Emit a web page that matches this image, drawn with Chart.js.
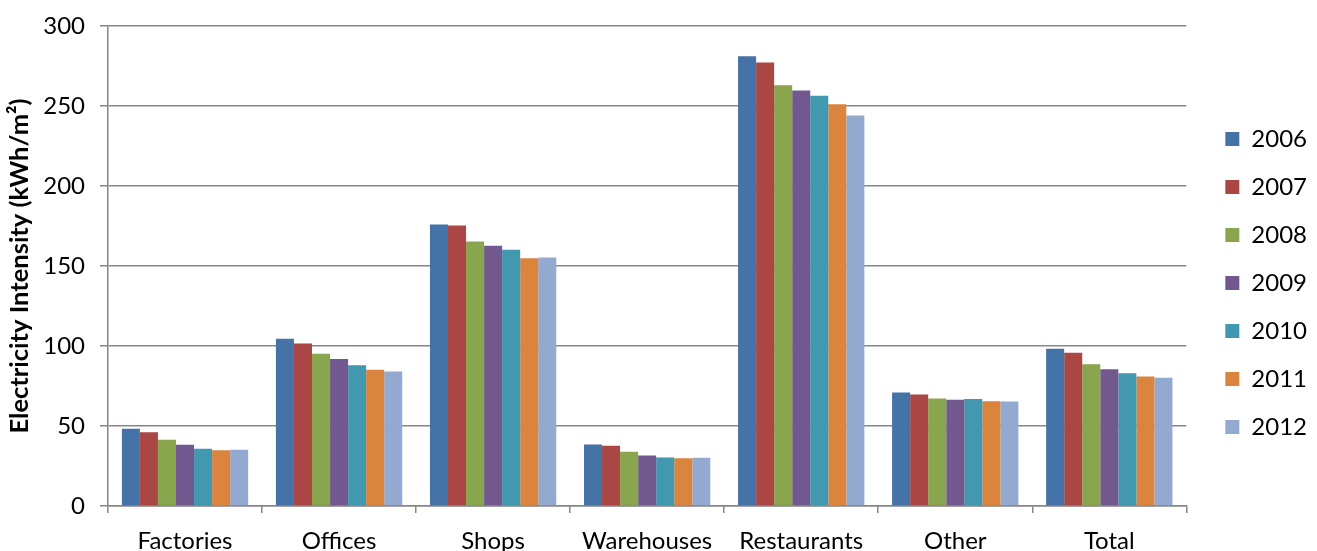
<!DOCTYPE html>
<html>
<head>
<meta charset="utf-8">
<script src="https://cdn.jsdelivr.net/npm/chart.js@4"></script>
<style>
  html, body { margin: 0; padding: 0; overflow: hidden; background: #fff; }
  #wrap { width: 1317px; height: 551px; }
</style>
</head>
<body>
<div id="wrap"><canvas id="intensityChart"></canvas></div>
<script>
// categories and yearly series (kWh/m2)
const categories = ['Factories', 'Offices', 'Shops', 'Warehouses', 'Restaurants', 'Other', 'Total'];
const years = ['2006', '2007', '2008', '2009', '2010', '2011', '2012'];
const v2006 = [48.3, 104.5, 175.9, 38.4, 281.1, 70.9, 98.3];
const v2007 = [46.1, 101.6, 175.3, 37.6, 277.2, 69.7, 95.8];
const v2008 = [41.4, 95.1, 165.3, 33.9, 263.0, 67.2, 88.6];
const v2009 = [38.3, 91.9, 162.6, 31.6, 259.7, 66.4, 85.5];
const v2010 = [35.8, 87.9, 160.1, 30.3, 256.4, 66.8, 83.0];
const v2011 = [34.9, 85.1, 154.9, 29.9, 251.1, 65.5, 80.9];
const v2012 = [35.1, 84.1, 155.3, 30.1, 244.1, 65.3, 80.1];
const yTicks = [0, 50, 100, 150, 200, 250, 300];

const series = [v2006, v2007, v2008, v2009, v2010, v2011, v2012];
const colours = ['#4572A7', '#AA4643', '#89A54E', '#71588F', '#4198AF', '#DB843D', '#93A9CF'];
const axisGrey = '#868686';

Chart.defaults.font.family = 'Lato, "Open Sans", sans-serif';
Chart.defaults.color = '#000';

const data = {
    labels: categories,
    datasets: years.map((y, i) => ({
        label: y,
        data: series[i],
        backgroundColor: colours[i],
        borderWidth: 0,
        barPercentage: 1.0,
        categoryPercentage: 0.82
    }))
};

// let the category labels run down to the bottom edge (they are cut off in the original)
const labelRoom = {
    id: 'labelRoom',
    afterLayout(chart) {
        chart.scales.x.bottom = chart.height;
    }
};

const options = {
    responsive: true,
    maintainAspectRatio: false,
    animation: false,
    layout: { padding: { top: 26, bottom: 11, left: 0, right: 0 } },
    plugins: {
        legend: {
            position: 'right',
            labels: {
                boxWidth: 14,
                boxHeight: 14,
                padding: 24,
                font: { size: 24 }
            }
        },
        tooltip: { enabled: false }
    },
    scales: {
        x: {
            offset: true,
            grid: { offset: true, drawOnChartArea: false, drawTicks: true, tickLength: 7, color: axisGrey, lineWidth: 1.5 },
            border: { color: axisGrey, width: 1.5 },
            ticks: { font: { size: 24 }, padding: 14, maxRotation: 0 },
            afterFit: function (scale) { scale.height = 551 - 11 - 506; }
        },
        y: {
            min: 0,
            max: 300,
            afterBuildTicks: function (scale) { scale.ticks = yTicks.map(v => ({ value: v })); },
            grid: { color: axisGrey, lineWidth: 1.5, tickLength: 8 },
            border: { color: axisGrey, width: 1.5 },
            ticks: { font: { size: 24 }, padding: 15 },
            title: {
                display: true,
                text: 'Electricity Intensity (kWh/m²)',
                font: { size: 25.5, weight: 'bold' },
                padding: { top: 4, bottom: 0 }
            },
            afterFit: function (scale) {
                scale.width = 108;
                scale.paddingTop = 0;
                scale.paddingBottom = 0;
            }
        },
        gap: {
            position: 'right',
            display: true,
            grid: { display: false },
            border: { display: false },
            ticks: { display: false },
            afterFit: function (scale) { scale.width = 15; }
        }
    }
};

const ctx = document.getElementById('intensityChart').getContext('2d');
const intensityChart = new Chart(ctx, {
    type: 'bar',
    data: data,
    options: options,
    plugins: [labelRoom]
});
</script>
</body>
</html>
